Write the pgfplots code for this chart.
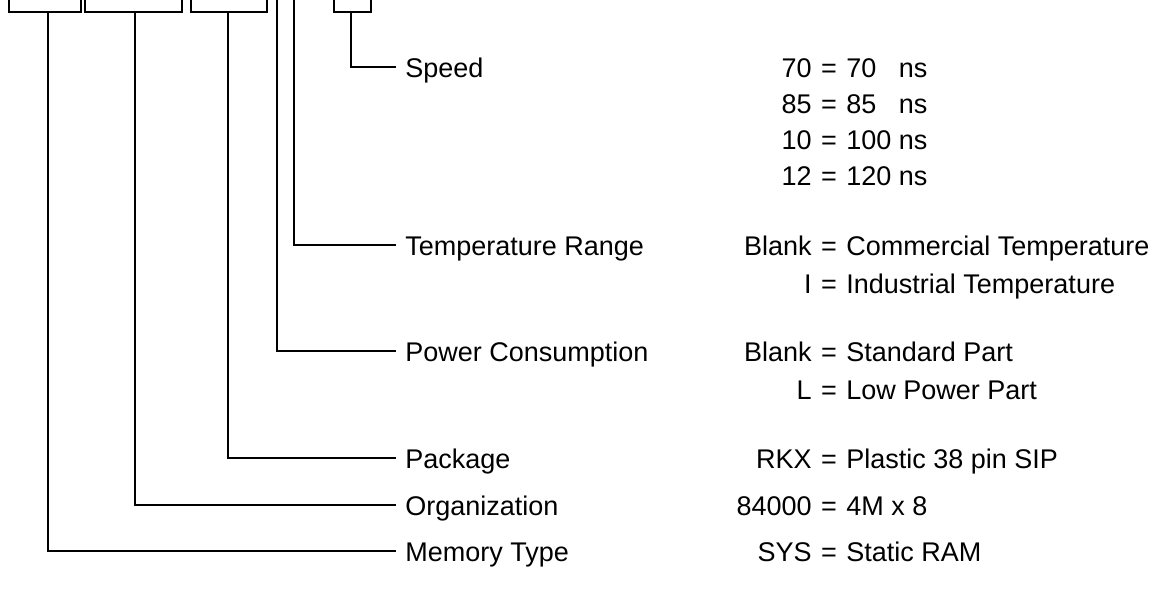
\documentclass[border=0pt]{standalone}
\usepackage{pgfplots}
\pgfplotsset{compat=1.18}
\usepackage{fontspec}
\setmainfont{Liberation Sans}
\tikzset{
  lbl/.style={font=\fontsize{13.5pt}{16pt}\selectfont, inner sep=0pt, text=black},
  code/.style={lbl, anchor=base east},
  eq/.style={lbl, anchor=base},
  desc/.style={lbl, anchor=base west},
}
\begin{document}
\begin{tikzpicture}
\begin{axis}[
  width=584.5pt, height=295.5pt, scale only axis,
  xmin=0, xmax=1169, ymin=0, ymax=591, y dir=reverse,
  hide axis, clip=false,
]
% boxes (cut at the top edge)
\addplot[black, line width=1.1pt] coordinates {(9,0) (9,12) (81,12) (81,0)};
\addplot[black, line width=1.1pt] coordinates {(85,0) (85,12) (182,12) (182,0)};
\addplot[black, line width=1.1pt] coordinates {(191,0) (191,12) (267,12) (267,0)};
\addplot[black, line width=1.1pt] coordinates {(334,0) (334,12) (371,12) (371,0)};
% leader lines
\addplot[black, line width=1.1pt] coordinates {(48,12) (48,551) (396,551)};
\addplot[black, line width=1.1pt] coordinates {(135,12) (135,505) (396,505)};
\addplot[black, line width=1.1pt] coordinates {(228,12) (228,458) (396,458)};
\addplot[black, line width=1.1pt] coordinates {(277,0) (277,351) (396,351)};
\addplot[black, line width=1.1pt] coordinates {(294,0) (294,245) (396,245)};
\addplot[black, line width=1.1pt] coordinates {(351,12) (351,67) (396,67)};
% field names
\node[desc] at (axis cs:405,77) {Speed};
\node[desc] at (axis cs:405,255) {Temperature Range};
\node[desc] at (axis cs:405,361) {Power Consumption};
\node[desc] at (axis cs:405,468) {Package};
\node[desc] at (axis cs:405,515) {Organization};
\node[desc] at (axis cs:405,561) {Memory Type};
% codes
\node[code] at (axis cs:812,77) {70};   \node[eq] at (axis cs:829,77) {=};  \node[desc] at (axis cs:846,77) {70\phantom{0} ns};
\node[code] at (axis cs:812,113) {85};  \node[eq] at (axis cs:829,113) {=}; \node[desc] at (axis cs:846,113) {85\phantom{0} ns};
\node[code] at (axis cs:812,149) {10};  \node[eq] at (axis cs:829,149) {=}; \node[desc] at (axis cs:846,149) {100 ns};
\node[code] at (axis cs:812,185) {12};  \node[eq] at (axis cs:829,185) {=}; \node[desc] at (axis cs:846,185) {120 ns};
\node[code] at (axis cs:812,255) {Blank}; \node[eq] at (axis cs:829,255) {=}; \node[desc] at (axis cs:846,255) {Commercial Temperature};
\node[code] at (axis cs:812,293) {I};   \node[eq] at (axis cs:829,293) {=}; \node[desc] at (axis cs:846,293) {Industrial Temperature};
\node[code] at (axis cs:812,361) {Blank}; \node[eq] at (axis cs:829,361) {=}; \node[desc] at (axis cs:846,361) {Standard Part};
\node[code] at (axis cs:812,399) {L};   \node[eq] at (axis cs:829,399) {=}; \node[desc] at (axis cs:846,399) {Low Power Part};
\node[code] at (axis cs:812,468) {RKX}; \node[eq] at (axis cs:829,468) {=}; \node[desc] at (axis cs:846,468) {Plastic 38 pin SIP};
\node[code] at (axis cs:812,515) {84000}; \node[eq] at (axis cs:829,515) {=}; \node[desc] at (axis cs:846,515) {4M x 8};
\node[code] at (axis cs:812,561) {SYS}; \node[eq] at (axis cs:829,561) {=}; \node[desc] at (axis cs:846,561) {Static RAM};
\end{axis}
\pgfresetboundingbox
\path (current axis.south west) rectangle (current axis.north east);
\end{tikzpicture}
\end{document}
